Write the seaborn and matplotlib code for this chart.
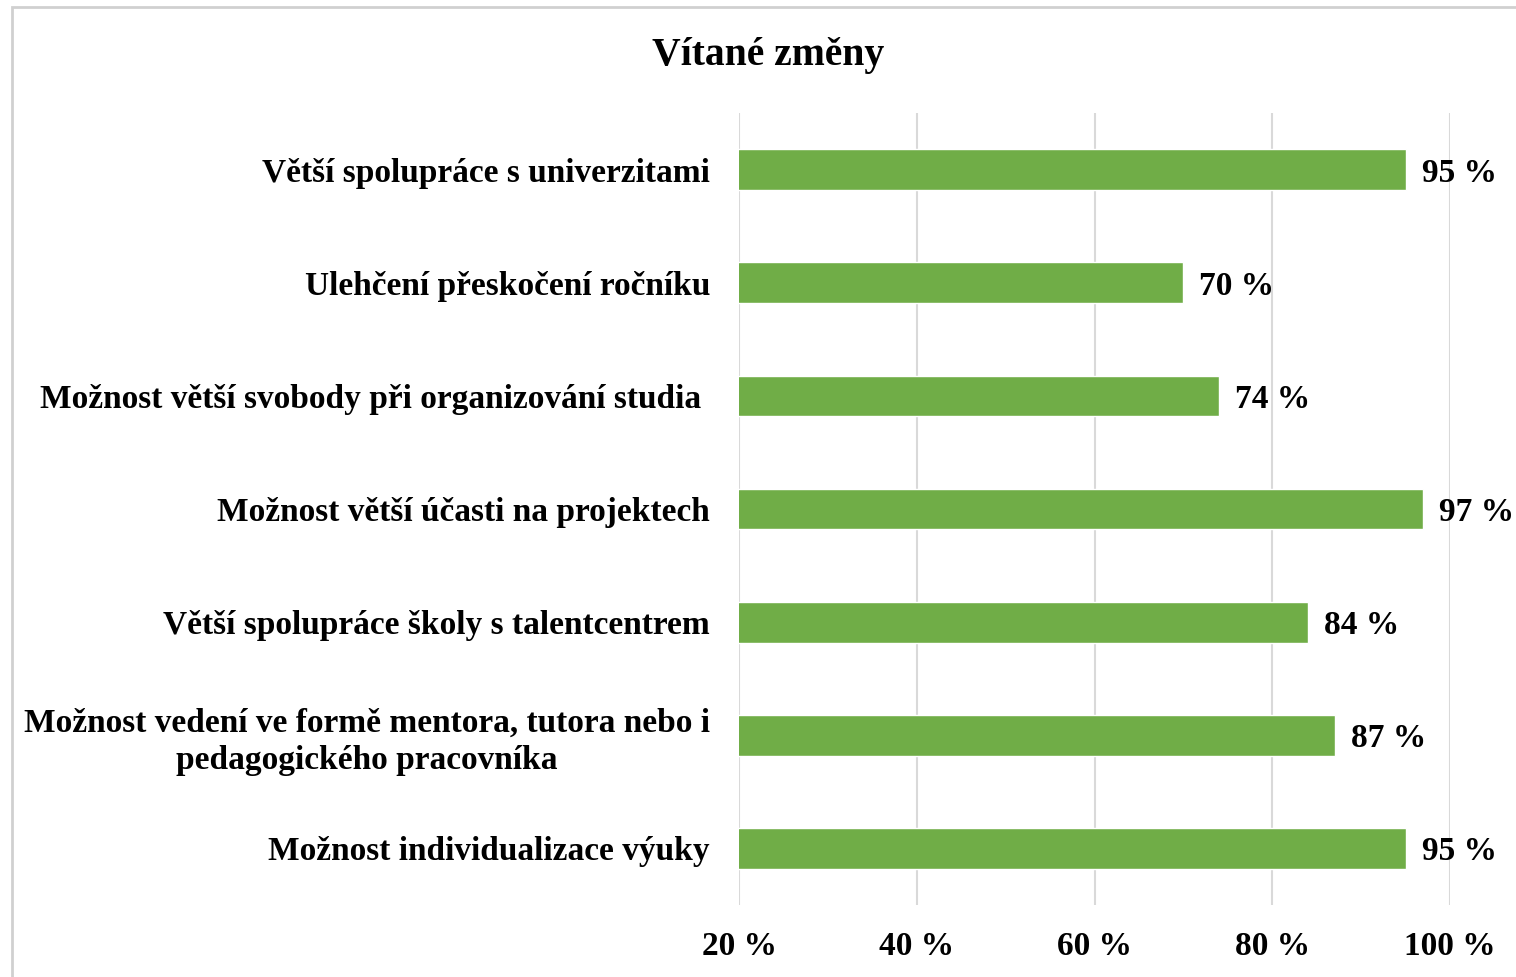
import seaborn as sns
import matplotlib.pyplot as plt
import matplotlib.patches as patches
import pandas as pd

# Data
categories = [
    "Větší spolupráce s univerzitami",
    "Ulehčení přeskočení ročníku",
    "Možnost větší svobody při organizování studia ",
    "Možnost větší účasti na projektech",
    "Větší spolupráce školy s talentcentrem",
    "Možnost vedení ve formě mentora, tutora nebo i\npedagogického pracovníka",
    "Možnost individualizace výuky",
]
values = [95, 70, 74, 97, 84, 87, 95]
x_ticks = [20, 40, 60, 80, 100]

df = pd.DataFrame({"category": categories, "value": values})

sns.set_theme(style="white")
plt.rcParams["font.family"] = ["Liberation Serif", "DejaVu Serif"]
plt.rcParams["font.weight"] = "bold"
plt.rcParams["text.color"] = "black"
plt.rcParams["xtick.color"] = "black"
plt.rcParams["ytick.color"] = "black"

fig = plt.figure(figsize=(15.16, 9.77), dpi=100)
ax = fig.add_axes([0.4875, 0.0737, 0.469, 0.8106])

sns.barplot(data=df, x="value", y="category", color="#70AD47",
            saturation=1, width=0.36, ax=ax)

ax.set_xlim(20, 100)
ax.set_xticks(x_ticks)
ax.set_xticklabels([f"{t} %" for t in x_ticks])
ax.xaxis.grid(True, color="#D9D9D9", linewidth=1.5)
ax.set_axisbelow(True)
for s in ax.spines.values():
    s.set_visible(False)
ax.set_xlabel("")
ax.set_ylabel("")
ax.tick_params(axis="x", length=0, pad=19, labelsize=24, labelcolor="black")
ax.tick_params(axis="y", length=0, pad=21, labelsize=24, labelcolor="black")
for lbl in ax.get_yticklabels():
    lbl.set_multialignment("center")
    lbl.set_linespacing(1.25)

# value labels at bar ends
for bar, v in zip(ax.patches, values):
    ax.annotate(f"{v} %", (bar.get_width(), bar.get_y() + bar.get_height() / 2),
                xytext=(16, 0), textcoords="offset pixels",
                va="center_baseline", ha="left", fontsize=24, fontweight="bold",
                color="black")

fig.suptitle("Vítané změny", x=0.507, y=0.962, fontsize=28.5, fontweight="bold",
             color="black")

# light frame around the chart area
fig.patches.append(patches.Rectangle((12 / 1516, -0.05), 1.1, 1 - 7 / 977 + 0.05,
                                     transform=fig.transFigure, fill=False,
                                     edgecolor="#D0D0D0", linewidth=2))

fig.savefig("out.png", dpi=100)
